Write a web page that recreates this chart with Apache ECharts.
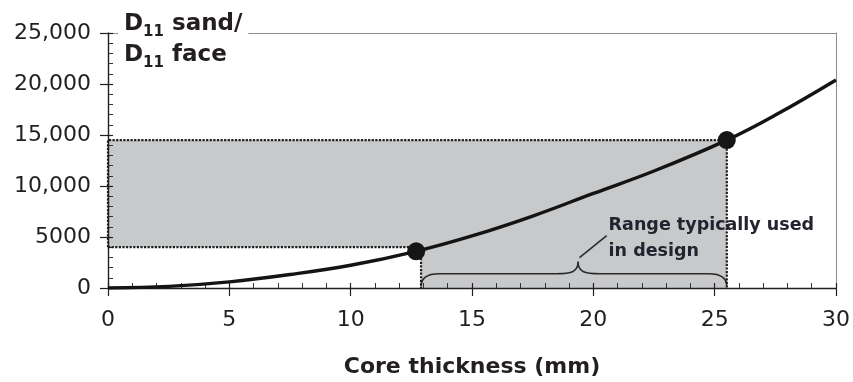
<!DOCTYPE html>
<html>
<head>
<meta charset="utf-8">
<script src="https://cdn.jsdelivr.net/npm/echarts@6/dist/echarts.min.js"></script>
<style>
  html, body { margin: 0; padding: 0; background: #fff; }
  #chart { width: 853px; height: 382px; }
</style>
</head>
<body>
<div id="chart"></div>
<script>
// Sandwich-to-face bending stiffness ratio against core thickness
const thickness = [0, 2.5, 5, 7.5, 10, 12.7, 15, 17.5, 20, 22.5, 25.5, 27.5, 30];
const stiffnessRatio = [0, 160, 600, 1320, 2230, 3600, 5100, 7050, 9270, 11470, 14500, 16950, 20400];

// Highlighted design points on the curve
const markedThickness = [12.7, 25.5];
const markedRatio = [3600, 14500];

// Shaded band: ratio range and the thickness range typically used
const bandRatio = [4000, 14500];
const rangeThickness = [12.9, 25.5];

// Brace under the thickness range, its leader line and its note
const braceArmRatio = 1400;
const braceTip = [19.37, 2600];
const leaderFrom = [19.43, 2970];
const leaderTo = [20.55, 5130];
const noteAnchor = [20.63, 7450];
const noteText = 'Range typically used\nin design';

// Tick labels
const xTickLabels = ['0', '5', '10', '15', '20', '25', '30'];
const yTickLabels = ['0', '5000', '10,000', '15,000', '20,000', '25,000'];

const FONT = 'DejaVu Sans';
const INK = '#231f20';

const chart = echarts.init(document.getElementById('chart'), null, { renderer: 'canvas' });

const xBase = { type: 'value', min: 0, max: 30, interval: 5 };
const yBase = { type: 'value', min: 0, max: 25000, interval: 5000 };

const option = {
  animation: false,
  backgroundColor: '#fff',
  title: {
    text: '{m|D}{s|11}{m| sand/}\n{m|D}{s|11}{m| face}',
    left: 118,
    top: 5,
    padding: [4, 6, 4, 6],
    backgroundColor: '#fff',
    z: 10,
    textStyle: {
      rich: {
        m: { fontFamily: FONT, fontWeight: 'bold', fontSize: 23, lineHeight: 31, color: INK },
        s: { fontFamily: FONT, fontWeight: 'bold', fontSize: 15, lineHeight: 12, verticalAlign: 'bottom', color: INK }
      }
    }
  },
  grid: {
    left: 108, right: 17, top: 33, bottom: 94,
    containLabel: false,
    outerBoundsMode: 'none'
  },
  xAxis: [
    Object.assign({}, xBase, {
      position: 'bottom', z: 3,
      name: 'Core thickness (mm)',
      nameLocation: 'middle',
      nameGap: 68,
      nameTextStyle: { fontFamily: FONT, fontWeight: 'bold', fontSize: 22, color: INK },
      axisLine: { show: true, onZero: false, lineStyle: { color: INK, width: 1.4 } },
      axisTick: { show: true, inside: false, length: 8, lineStyle: { color: INK, width: 1.2 } },
      minorTick: { show: false },
      splitLine: { show: false },
      axisLabel: {
        margin: 21,
        fontFamily: FONT, fontSize: 22, color: INK,
        formatter: v => xTickLabels[Math.round(v / 5)]
      }
    }),
    Object.assign({}, xBase, {
      position: 'bottom', z: 3,
      axisLine: { show: false, onZero: false },
      axisTick: { show: true, inside: true, length: 5, lineStyle: { color: INK, width: 1.2 } },
      minorTick: { show: true, splitNumber: 5, length: 5, lineStyle: { color: '#333', width: 1 } },
      splitLine: { show: false },
      axisLabel: { show: false }
    }),
    Object.assign({}, xBase, {
      position: 'top', z: 2,
      axisLine: { show: true, onZero: false, lineStyle: { color: '#8c8c8c', width: 1 } },
      axisTick: { show: false },
      splitLine: { show: false },
      axisLabel: { show: false }
    })
  ],
  yAxis: [
    Object.assign({}, yBase, {
      position: 'left', z: 3,
      axisLine: { show: true, onZero: false, lineStyle: { color: INK, width: 1.4 } },
      axisTick: { show: true, inside: false, length: 8, lineStyle: { color: INK, width: 1.2 } },
      minorTick: { show: false },
      splitLine: { show: false },
      axisLabel: {
        margin: 17,
        fontFamily: FONT, fontSize: 22, color: INK,
        formatter: v => yTickLabels[Math.round(v / 5000)]
      }
    }),
    Object.assign({}, yBase, {
      position: 'left', z: 3,
      axisLine: { show: false, onZero: false },
      axisTick: { show: true, inside: true, length: 5, lineStyle: { color: INK, width: 1.2 } },
      minorTick: { show: true, splitNumber: 5, length: 5, lineStyle: { color: '#333', width: 1 } },
      splitLine: { show: false },
      axisLabel: { show: false }
    }),
    Object.assign({}, yBase, {
      position: 'right', z: 2,
      axisLine: { show: true, onZero: false, lineStyle: { color: '#8c8c8c', width: 1 } },
      axisTick: { show: false },
      splitLine: { show: false },
      axisLabel: { show: false }
    })
  ],
  series: [
    {
      // Dotted outline of the shaded band
      type: 'line', z: 4, xAxisIndex: 0, yAxisIndex: 0,
      symbol: 'none', silent: true,
      lineStyle: { color: '#1e1e1e', width: 2.2, type: [2.2, 1.4] },
      data: [
        [0, bandRatio[0]], [0, bandRatio[1]],
        [rangeThickness[1], bandRatio[1]], [rangeThickness[1], 0]
      ]
    },
    {
      type: 'line', z: 4, xAxisIndex: 0, yAxisIndex: 0,
      symbol: 'none', silent: true,
      lineStyle: { color: '#1e1e1e', width: 2.2, type: [2.2, 1.4] },
      data: [
        [0, bandRatio[0]], [rangeThickness[0], bandRatio[0]], [rangeThickness[0], 0]
      ]
    },
    {
      // Brace, leader and note for the thickness range
      type: 'custom', z: 4, xAxisIndex: 0, yAxisIndex: 0,
      silent: true, clip: false,
      data: [[rangeThickness[0], rangeThickness[1]]],
      renderItem: (params, api) => {
        const left = api.coord([rangeThickness[0], 0]);
        const right = api.coord([rangeThickness[1], 0]);
        const tip = api.coord(braceTip);
        const arm = api.coord([0, braceArmRatio])[1];
        const xL = left[0], xR = right[0], yb = left[1] - 1.5;
        const xm = tip[0], ym = tip[1];
        const r = 18, rm = 22;
        const d = `M${xL},${yb} C${xL},${arm + 5} ${xL + 5},${arm} ${xL + r},${arm}` +
          ` L${xm - rm},${arm} C${xm - 6},${arm} ${xm},${arm - 2} ${xm},${ym}` +
          ` C${xm},${arm - 2} ${xm + 6},${arm} ${xm + rm},${arm}` +
          ` L${xR - r},${arm} C${xR - 5},${arm} ${xR},${arm + 5} ${xR},${yb}`;
        const a = api.coord(leaderFrom);
        const b = api.coord(leaderTo);
        const n = api.coord(noteAnchor);
        return {
          type: 'group',
          children: [
            { type: 'path', shape: { pathData: d }, style: { fill: null, stroke: '#2a2a2a', lineWidth: 1.6 } },
            { type: 'line', shape: { x1: a[0], y1: a[1], x2: b[0], y2: b[1] }, style: { stroke: '#2a2a2a', lineWidth: 1.6 } },
            {
              type: 'text', x: n[0], y: n[1],
              style: {
                text: noteText, fontFamily: FONT, fontWeight: 'bold', fontSize: 17.5,
                lineHeight: 26, fill: '#232330', align: 'left', verticalAlign: 'top'
              }
            }
          ]
        };
      }
    },
    {
      // Stiffness-ratio curve, with the shaded band underneath
      type: 'line', z: 5, xAxisIndex: 0, yAxisIndex: 0,
      smooth: 0.4,
      symbol: 'none',
      lineStyle: { color: '#141414', width: 3.4 },
      data: thickness.map((t, i) => [t, stiffnessRatio[i]]),
      markArea: {
        silent: true,
        itemStyle: { color: '#c8c9cb', borderWidth: 0 },
        label: { show: false },
        data: [
          [{ coord: [0, bandRatio[0]] }, { coord: [rangeThickness[1], bandRatio[1]] }],
          [{ coord: [rangeThickness[0], 0] }, { coord: [rangeThickness[1], bandRatio[1]] }]
        ]
      }
    },
    {
      type: 'scatter', z: 6, xAxisIndex: 0, yAxisIndex: 0,
      symbol: 'circle', symbolSize: 18,
      itemStyle: { color: '#151515', opacity: 1 },
      data: markedThickness.map((t, i) => [t, markedRatio[i]])
    }
  ]
};

chart.setOption(option);
</script>
</body>
</html>
